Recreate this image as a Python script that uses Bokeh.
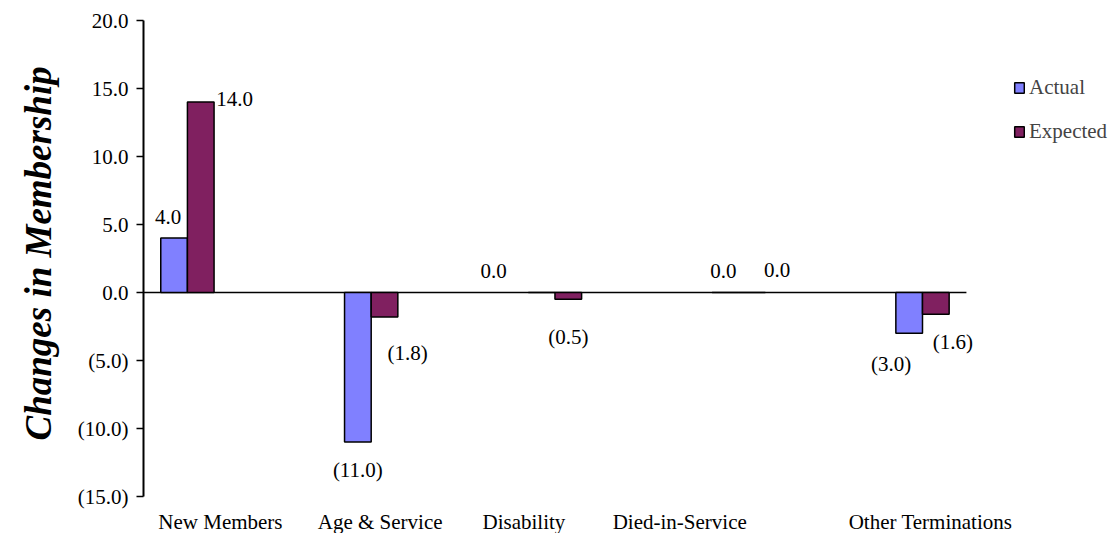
from bokeh.plotting import figure
from bokeh.models import (ColumnDataSource, Range1d, FixedTicker, LabelSet,
                          Legend, LegendItem, Title)
from bokeh.embed import file_html
from bokeh.resources import INLINE

# ---- data ----
categories = ["New Members", "Age & Service", "Disability", "Died-in-Service", "Other Terminations"]
actual = [4.0, -11.0, 0.0, 0.0, -3.0]
expected = [14.0, -1.8, -0.5, 0.0, -1.6]
y_ticks = [-15, -10, -5, 0, 5, 10, 15, 20]
y_title = "Changes in Membership"

# ---- styles / layout ----
FONT = "Liberation Serif"
C_ACT = "#8080FF"
C_EXP = "#802060"
BAR_W = 0.145
X_PAD = 0.239        # gap between axis and first/last group (category units)
X_RIGHT_EXTRA = 0.833  # blank room at the right for the legend (category units)
Y_BOTTOM_EXTRA = 2.72  # blank room under the axis for category names (value units)
# label nudges (pixels) as placed in the original
act_dx = [-6, 0, -48, -2, -18]
act_dy = [21, -28, 22, 22, -31]
exp_dx = [34, 23, 0, 25, 17]
exp_dy = [3, -36, -38, 23, -28]
cat_dx = [33, 9, -31, -59, 8]


def fmt(v):
    return "(%.1f)" % abs(v) if v < 0 else "%.1f" % v


n = len(categories)
idx = list(range(n))

p = figure(width=1119, height=533, output_backend="svg", toolbar_location=None,
           x_range=Range1d(-X_PAD, n - 1 + X_PAD + X_RIGHT_EXTRA),
           y_range=Range1d(min(y_ticks) - Y_BOTTOM_EXTRA, max(y_ticks)),
           min_border_left=143, min_border_right=0, min_border_top=20, min_border_bottom=0)
p.outline_line_color = None
p.xgrid.visible = False
p.ygrid.visible = False
p.xaxis.visible = False

src_a = ColumnDataSource(dict(x=[i - BAR_W / 2 for i in idx], top=actual,
                              lbl=[fmt(v) for v in actual], dx=act_dx, dy=act_dy))
src_e = ColumnDataSource(dict(x=[i + BAR_W / 2 for i in idx], top=expected,
                              lbl=[fmt(v) for v in expected], dx=exp_dx, dy=exp_dy))

# zero line spanning the category area
p.segment(x0=[-X_PAD], y0=[0], x1=[n - 1 + X_PAD], y1=[0], line_color="black", line_width=1.5)

ra = p.vbar(x="x", top="top", bottom=0, width=BAR_W, source=src_a,
            fill_color=C_ACT, line_color="black", line_width=1.5)
re = p.vbar(x="x", top="top", bottom=0, width=BAR_W, source=src_e,
            fill_color=C_EXP, line_color="black", line_width=1.5)

for s in (src_a, src_e):
    p.add_layout(LabelSet(x="x", y="top", text="lbl", source=s, x_offset="dx", y_offset="dy",
                          text_align="center", text_baseline="middle",
                          text_font=FONT, text_font_size="21px", text_color="black"))

src_c = ColumnDataSource(dict(x=idx, y=[min(y_ticks)] * n, t=categories, dx=cat_dx))
p.add_layout(LabelSet(x="x", y="y", text="t", source=src_c, x_offset="dx", y_offset=-25,
                      text_align="center", text_baseline="middle",
                      text_font=FONT, text_font_size="21px", text_color="black"))

ax = p.yaxis[0]
ax.ticker = FixedTicker(ticks=y_ticks)
ax.bounds = (min(y_ticks), max(y_ticks))
ax.major_label_overrides = {t: fmt(t) for t in y_ticks}
ax.minor_tick_line_color = None
ax.major_tick_in = 0
ax.major_tick_out = 7
ax.major_tick_line_width = 1.5
ax.axis_line_width = 2
ax.major_label_standoff = 8
ax.major_label_text_font = FONT
ax.major_label_text_font_size = "21px"
ax.major_label_text_color = "black"

p.add_layout(Title(text=y_title, align="left", vertical_align="top", offset=93, standoff=28,
                   text_font=FONT, text_font_size="37px", text_font_style="bold italic",
                   text_color="black"), "left")

legend = Legend(items=[LegendItem(label="Actual", renderers=[ra]),
                       LegendItem(label="Expected", renderers=[re])],
                location=(870, 389), padding=0, margin=0, spacing=19,
                glyph_width=12, glyph_height=13, label_standoff=4,
                label_text_font=FONT, label_text_font_size="21px",
                border_line_alpha=0, background_fill_alpha=0)
p.add_layout(legend)

open("out.html", "w").write(file_html(p, INLINE))
